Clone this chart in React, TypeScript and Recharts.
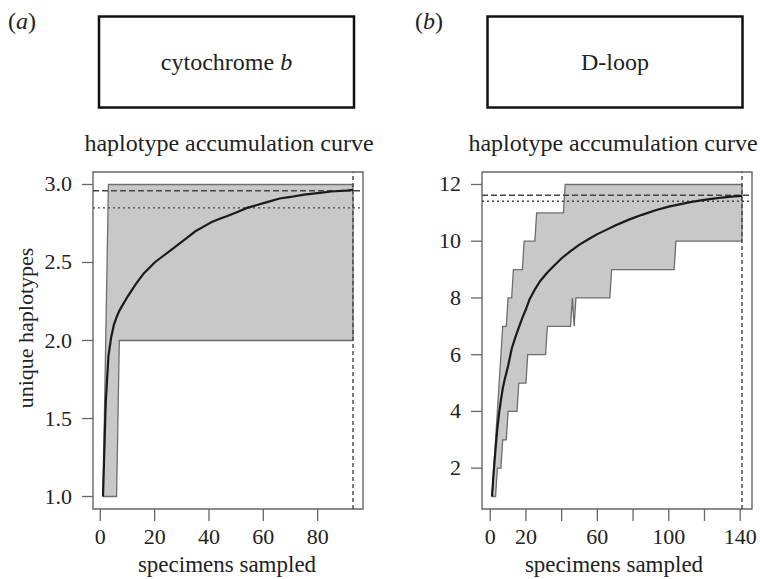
import React from 'react';
import { ComposedChart, Area, Line, XAxis, YAxis, ReferenceLine, ReferenceArea } from 'recharts';

// ---------- panel (a): cytochrome b ----------
const cytbN = 93;
const cytbMaxStepX = [1, 2, 3];
const cytbMaxStepV = [1, 2, 3];
const cytbMinStepX = [1, 7];
const cytbMinStepV = [1, 2];
const cytbMeanX = [1, 2, 3, 4, 5, 6, 7, 8, 10, 13, 16, 20, 23, 26, 29, 32, 35, 38, 41, 44, 47, 50, 54, 58, 62, 66, 70, 75, 80, 85, 90, 93];
const cytbMeanY = [1, 1.6, 1.9, 2.02, 2.1, 2.15, 2.19, 2.22, 2.28, 2.36, 2.43, 2.5, 2.54, 2.58, 2.62, 2.66, 2.7, 2.73, 2.76, 2.78, 2.8, 2.82, 2.85, 2.87, 2.89, 2.91, 2.92, 2.935, 2.945, 2.955, 2.96, 2.965];
const cytbXTicks = [0, 20, 40, 60, 80];
const cytbXLabels = [0, 20, 40, 60, 80];
const cytbYTicks = [1, 1.5, 2, 2.5, 3];
const cytbDashed = 2.96;
const cytbDotted = 2.85;

// ---------- panel (b): D-loop ----------
const dloopN = 141;
const dloopMaxStepX = [1, 2, 3, 4, 5, 6, 7, 10, 13, 19, 26, 42];
const dloopMaxStepV = [1, 2, 3, 4, 5, 6, 7, 8, 9, 10, 11, 12];
const dloopMinStepX = [1, 4, 7, 10, 16, 21, 32, 46, 47, 48, 68, 104];
const dloopMinStepV = [1, 2, 3, 4, 5, 6, 7, 8, 7, 8, 9, 10];
const dloopMeanX = [1, 2, 3, 4, 5, 6, 7, 8, 10, 12, 14, 16, 18, 20, 22, 25, 28, 32, 36, 40, 45, 50, 55, 60, 65, 70, 78, 85, 93, 100, 106, 112, 119, 125, 130, 135, 141];
const dloopMeanY = [1, 1.9, 2.7, 3.4, 3.95, 4.4, 4.8, 5.1, 5.6, 6.2, 6.6, 6.95, 7.3, 7.6, 7.95, 8.3, 8.6, 8.9, 9.15, 9.4, 9.65, 9.88, 10.07, 10.25, 10.4, 10.55, 10.77, 10.93, 11.1, 11.22, 11.3, 11.38, 11.45, 11.5, 11.54, 11.57, 11.6];
const dloopXTicks = [0, 20, 40, 60, 80, 100, 120, 140];
const dloopXLabels = [0, 20, 60, 100, 140];
const dloopYTicks = [2, 4, 6, 8, 10, 12];
const dloopDashed = 11.62;
const dloopDotted = 11.41;

const FONT = "'Liberation Serif', 'Times New Roman', serif";
const TEXT = '#222';
const AXIS = '#666';

function stepAt(xs: number[], vs: number[], x: number) {
  let v = vs[0];
  for (let i = 0; i < xs.length; i++) if (xs[i] <= x) v = vs[i];
  return v;
}

function buildRows(n: number, maxX: number[], maxV: number[], minX: number[], minV: number[], meanX: number[], meanY: number[]) {
  const rows: any[] = [];
  for (let x = 1; x <= n; x++) {
    const row: any = { x, band: [stepAt(minX, minV, x), stepAt(maxX, maxV, x)] };
    const idx = meanX.indexOf(x);
    if (idx >= 0) row.mean = meanY[idx];
    rows.push(row);
  }
  return rows;
}

const makeXTick = (labels: number[]) => (props: any) => {
  const { x, y, payload } = props;
  if (!labels.includes(payload.value)) return <g />;
  return (
    <text x={x} y={y} dy={21} textAnchor="middle" fontSize={22} fontFamily={FONT} fill={TEXT}>
      {payload.value}
    </text>
  );
};

const makeYTick = (digits: number) => (props: any) => {
  const { x, y, payload } = props;
  return (
    <text x={x} y={y} dy={7} textAnchor="end" fontSize={22} fontFamily={FONT} fill={TEXT}>
      {Number(payload.value).toFixed(digits)}
    </text>
  );
};

type PanelProps = {
  left: number;
  marginLeft: number;
  marginRight: number;
  n: number;
  rows: any[];
  xTicks: number[];
  xLabels: number[];
  yTicks: number[];
  yMin: number;
  yMax: number;
  digits: number;
  dashed: number;
  dotted: number;
  endMin: number;
  endMax: number;
};

function Panel(p: PanelProps) {
  const xPad = (p.n - 1) * 0.04;
  const yPad = (p.yMax - p.yMin) * 0.04;
  const xDom: [number, number] = [1 - xPad, p.n + xPad];
  const yDom: [number, number] = [p.yMin - yPad, p.yMax + yPad];
  return (
    <div style={{ position: 'absolute', left: p.left, top: 0 }}>
      <ComposedChart
        width={380}
        height={579}
        data={p.rows}
        margin={{ top: 172, right: p.marginRight, bottom: 20, left: p.marginLeft }}
      >
        <XAxis
          dataKey="x"
          type="number"
          domain={xDom}
          allowDataOverflow
          ticks={p.xTicks}
          interval={0}
          tickSize={12}
          tickMargin={2}
          tickLine={{ stroke: AXIS, strokeWidth: 1.3 }}
          axisLine={false}
          height={50}
          tick={makeXTick(p.xLabels)}
        />
        <YAxis
          type="number"
          domain={yDom}
          allowDataOverflow
          ticks={p.yTicks}
          interval={0}
          tickSize={11}
          tickMargin={10}
          tickLine={{ stroke: AXIS, strokeWidth: 1.3 }}
          axisLine={false}
          width={60}
          tick={makeYTick(p.digits)}
        />
        <Area
          dataKey="band"
          type="linear"
          fill="#c8c8c8"
          fillOpacity={1}
          stroke="#6e6e6e"
          strokeWidth={1.3}
          isAnimationActive={false}
          activeDot={false}
          dot={false}
        />
        <ReferenceLine
          segment={[{ x: p.n, y: p.endMin }, { x: p.n, y: p.endMax }]}
          stroke="#6e6e6e"
          strokeWidth={1.3}
        />
        <ReferenceLine y={p.dashed} stroke="#444" strokeWidth={1.4} strokeDasharray="6 3" />
        <ReferenceLine y={p.dotted} stroke="#444" strokeWidth={1.4} strokeDasharray="2 3" />
        <ReferenceLine x={p.n} stroke="#444" strokeWidth={1.4} strokeDasharray="4 3" />
        <Line
          dataKey="mean"
          type="linear"
          stroke="#1a1a1a"
          strokeWidth={2.2}
          dot={false}
          activeDot={false}
          connectNulls
          isAnimationActive={false}
        />
        <ReferenceArea
          x1={xDom[0]}
          x2={xDom[1]}
          y1={yDom[0]}
          y2={yDom[1]}
          fill="none"
          fillOpacity={0}
          stroke={AXIS}
          strokeWidth={1.4}
          ifOverflow="visible"
        />
      </ComposedChart>
    </div>
  );
}

export default function App() {
  const cytbRows = buildRows(cytbN, cytbMaxStepX, cytbMaxStepV, cytbMinStepX, cytbMinStepV, cytbMeanX, cytbMeanY);
  const dloopRows = buildRows(dloopN, dloopMaxStepX, dloopMaxStepV, dloopMinStepX, dloopMinStepV, dloopMeanX, dloopMeanY);
  const cytbEnd = cytbRows[cytbRows.length - 1].band;
  const dloopEnd = dloopRows[dloopRows.length - 1].band;
  return (
    <div style={{ position: 'absolute', left: 0, top: 0, width: 760, height: 579, background: '#fff', overflow: 'hidden' }}>
      <Panel
        left={0}
        marginLeft={33}
        marginRight={17}
        n={cytbN}
        rows={cytbRows}
        xTicks={cytbXTicks}
        xLabels={cytbXLabels}
        yTicks={cytbYTicks}
        yMin={1}
        yMax={3}
        digits={1}
        dashed={cytbDashed}
        dotted={cytbDotted}
        endMin={cytbEnd[0]}
        endMax={cytbEnd[1]}
      />
      <Panel
        left={380}
        marginLeft={42}
        marginRight={8}
        n={dloopN}
        rows={dloopRows}
        xTicks={dloopXTicks}
        xLabels={dloopXLabels}
        yTicks={dloopYTicks}
        yMin={1}
        yMax={12}
        digits={0}
        dashed={dloopDashed}
        dotted={dloopDotted}
        endMin={dloopEnd[0]}
        endMax={dloopEnd[1]}
      />
      <svg width={760} height={579} style={{ position: 'absolute', left: 0, top: 0, pointerEvents: 'none' }}>
        <g fontFamily={FONT} fill={TEXT}>
          <text x={8} y={29} fontSize={24}>(<tspan fontStyle="italic">a</tspan>)</text>
          <rect x={99} y={16.5} width={255} height={91} fill="none" stroke="#111" strokeWidth={2.5} />
          <text x={226.5} y={70} fontSize={24} textAnchor="middle">
            cytochrome <tspan fontStyle="italic">b</tspan>
          </text>
          <text x={415} y={29} fontSize={24}>(<tspan fontStyle="italic">b</tspan>)</text>
          <rect x={487.5} y={16.5} width={255} height={91} fill="none" stroke="#111" strokeWidth={2.5} />
          <text x={615} y={70} fontSize={24} textAnchor="middle">D-loop</text>
          <text x={229} y={151} fontSize={24} textAnchor="middle">haplotype accumulation curve</text>
          <text x={613} y={151} fontSize={24} textAnchor="middle">haplotype accumulation curve</text>
          <text x={227} y={572} fontSize={23} textAnchor="middle">specimens sampled</text>
          <text x={614} y={572} fontSize={23} textAnchor="middle">specimens sampled</text>
          <text x={0} y={0} fontSize={22} textAnchor="middle" transform="translate(33 328) rotate(-90)">
            unique haplotypes
          </text>
        </g>
      </svg>
    </div>
  );
}
